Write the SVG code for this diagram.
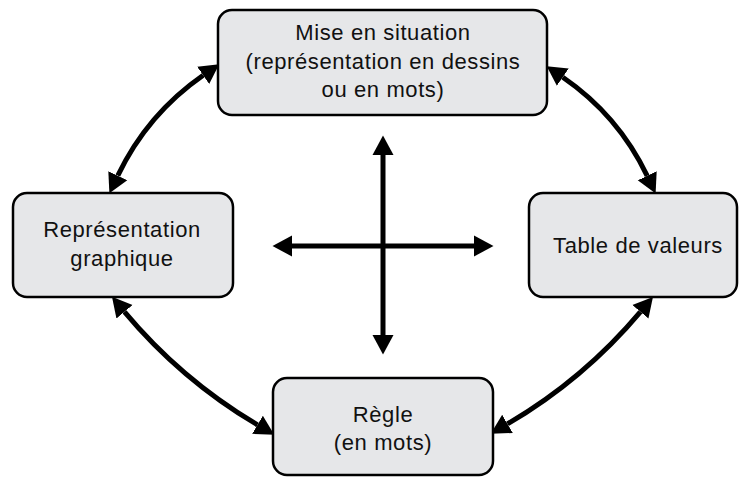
<svg xmlns="http://www.w3.org/2000/svg" width="739" height="478" viewBox="0 0 739 478">
  <style>
    .box { fill: #e6e7e9; stroke: #000; stroke-width: 2.5; }
    .lbl { font-family: "Liberation Sans", Arial, sans-serif; font-size: 22px; letter-spacing: 0.6px; fill: #111; text-anchor: middle; }
    .conn { fill: none; stroke: #000; stroke-width: 5; marker-start: url(#ah); marker-end: url(#ah); }
  </style>
  <defs>
    <marker id="ah" markerUnits="userSpaceOnUse" markerWidth="22" markerHeight="24" viewBox="0 -12 22 24" refX="0" refY="0" orient="auto-start-reverse">
      <path d="M0,-10.5 L19.5,0 L0,10.5 Z" fill="#000"/>
    </marker>
  </defs>
  <rect width="739" height="478" fill="#fff"/>

  <g id="connectors">
    <path class="conn" d="M117.8,175.7 Q147.2,114.2 203.2,75.3"/>
    <path class="conn" d="M562.8,77.2 Q618.2,115.2 647.2,175.8"/>
    <path class="conn" d="M124.5,311.8 Q181.3,379.7 257.5,424.8"/>
    <path class="conn" d="M640.4,311.8 Q583.6,379.3 507.5,423.9"/>
    <path class="conn" d="M383,155 L383,335"/>
    <path class="conn" d="M292,246 L474,246"/>
  </g>

  <g id="mise-en-situation">
    <rect class="box" x="218" y="10" width="329" height="105" rx="14"/>
    <text class="lbl" x="383" y="40">Mise en situation</text>
    <text class="lbl" x="383" y="68.5">(représentation en dessins</text>
    <text class="lbl" x="383" y="97">ou en mots)</text>
  </g>

  <g id="representation-graphique">
    <rect class="box" x="13" y="193" width="220" height="104" rx="14"/>
    <text class="lbl" x="122" y="237">Représentation</text>
    <text class="lbl" x="122" y="266">graphique</text>
  </g>

  <g id="table-de-valeurs">
    <rect class="box" x="529" y="193" width="208" height="104" rx="14"/>
    <text class="lbl" x="638" y="253">Table de valeurs</text>
  </g>

  <g id="regle">
    <rect class="box" x="273" y="378" width="220" height="97" rx="14"/>
    <text class="lbl" x="383" y="422">Règle</text>
    <text class="lbl" x="383" y="450">(en mots)</text>
  </g>
</svg>
